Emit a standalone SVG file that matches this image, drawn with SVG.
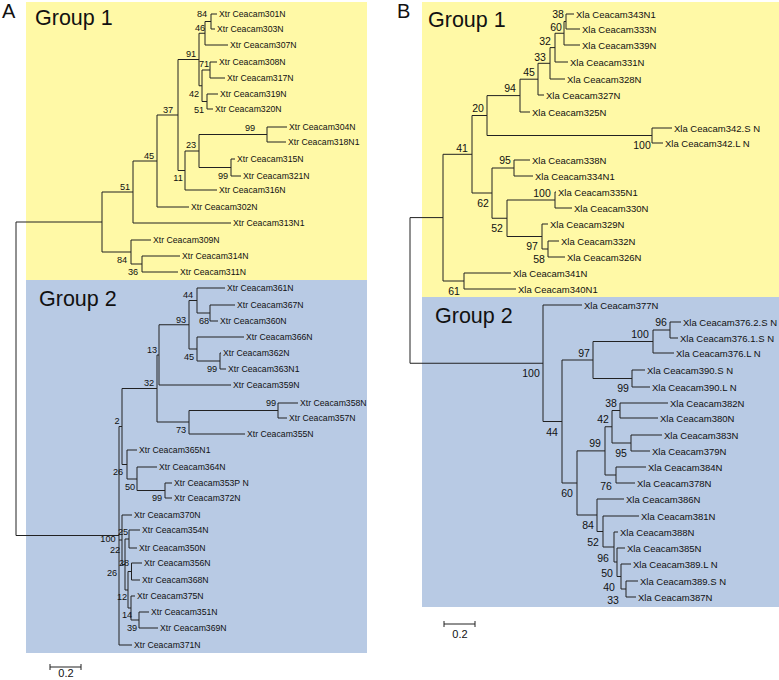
<svg xmlns="http://www.w3.org/2000/svg" width="779" height="680" viewBox="0 0 779 680">
<style>
text{font-family:"Liberation Sans",Arial,sans-serif;fill:#111}
.ta{font-size:8.7px;dominant-baseline:central}
.tb{font-size:9.5px;dominant-baseline:central}
.ba{font-size:9.2px;text-anchor:middle;dominant-baseline:central}
.bb{font-size:10.5px;text-anchor:middle;dominant-baseline:central}
.grp{font-size:21.5px}
.pan{font-size:20px}
.sc{font-size:11px;text-anchor:middle}
.br{fill:none;stroke:#222;stroke-width:1}
</style>
<rect width="779" height="680" fill="#fff"/>
<g id="backgrounds">
<rect x="26" y="2" width="341" height="278" fill="#FFF9A6"/>
<rect x="26" y="280" width="341" height="373" fill="#B8CAE4"/>
<rect x="422" y="2" width="357" height="295" fill="#FFF9A6"/>
<rect x="422" y="297" width="357" height="310" fill="#B8CAE4"/>
</g>
<g id="titles">
<text class="pan" x="2" y="18">A</text>
<text class="pan" x="397" y="18">B</text>
<text class="grp" x="35" y="25">Group 1</text>
<text class="grp" x="39" y="306">Group 2</text>
<text class="grp" x="428" y="27">Group 1</text>
<text class="grp" x="435" y="323">Group 2</text>
</g>
<g id="connectors">
<path class="br" d="M211 14H217M211 29H215M205 45H228M210 62H217M210 78H225M207 94H218M207 109H213M267 127H287M267 142H286M231 159H235M231 176H241M185 190H217M157 207H189M133 223H231M131 240H151M142 256H180M142 272H178
M211 14V29M205 21.5V45M210 62V78M207 94V109M202 70V101.5M199 33.25V85.75M267 127V142M231 159V176M199 134.5V167.5M185 151V190M178 59.5V170.5M157 115V207M133 161V223M142 256V272M131 240V264M102 192V252M16 222V535.5
M205 21.5H211M199 33.25H205M202 70H210M202 101.5H207M199 85.75H202M178 59.5H199M199 134.5H267M199 167.5H231M185 151H199M178 170.5H185M157 115H178M133 161H157M102 192H133M131 264H142M102 252H131M16 222H102"/>
<path class="br" d="M197 288H225M210 305H235M210 321H218M197 337H244M220 353H221M220 369H226M159 385H231M278 403H298M278 418H287M189 434H245M127 450H137M137 467H157M165 483H172M165 498H172M122 515H132M129 530H140M129 548H137M131.5 563H142M131.5 580H140M131 596H135M139 612H149M139 628H158M119 645H132
M210 305V321M197 288V313M220 353V369M197 337V361M189 300.5V349M159 324.75V385M278 403V418M189 410.5V434M157 355V422M165 483V498M137 467V490.5M127 450V479M122 388.5V464.5M129 530V548M131.5 563V580M139 612V628M131 596V620M128 571.5V608M125 539V590M122 515V564.5M119 426.5V645
M197 313H210M189 300.5H197M197 361H220M189 349H197M159 324.75H189M157 355H159M189 410.5H278M157 422H189M122 388.5H157M137 490.5H165M127 479H137M122 464.5H127M119 426.5H122M125 539H129M128 571.5H131.5M131 620H139M128 608H131M125 590H128M122 564.5H125M119 540H122M16 535.5H119"/>
<path class="br" d="M566 14H574M566 29H580M564 45H580M555 62H568M550 79H565M538 95H544M520 112H530M652 128H672M652 143H663M514 160H530M514 176H533M555 192H556M555 208H572M542 224H548M548 241H559M548 257H565M464 273H511M464 289H516
M566 14V29M564 21.5V45M555 33.25V62M550 47.6V79M538 63.3V95M520 79.2V112M652 128V143M487 95.6V135.5M514 160V176M555 192V208M548 241V257M542 224V249M507 200V236.5M492 168V218.25M472 115.5V193M464 273V289M443 154.3V281M410 217.6V363.25
M564 21.5H566M555 33.25H564M550 47.6H555M538 63.3H550M520 79.2H538M487 95.6H520M487 135.5H652M472 115.5H487M507 200H555M542 249H548M507 236.5H542M492 218.25H507M492 168H514M472 193H492M443 154.3H472M443 281H464M410 217.6H443M410 363.25H543"/>
<path class="br" d="M543 305H582M670 322H681M670 338H678M653 353H674M632 370H645M632 387H650M620 403H668M620 418H658M631 435H662M631 451H650M616 467H646M616 483H635M597 499H624M603 516H639M614 532H618M617 548H625M621 564H631M626 581H638M626 597H636
M670 322V338M653 330V353M632 370V387M593 341.5V378.5M620 403V418M631 435V451M612 410.5V443M616 467V483M605 426.75V475M626 581V597M621 564V589M617 548V576.5M614 532V562M603 516V547M597 499V531.5M577 450.9V515M562 360V483M543 305V421.5
M653 330H670M593 341.5H653M593 378.5H632M562 360H593M612 410.5H620M612 443H631M605 426.75H612M605 475H616M577 450.9H605M621 589H626M617 576.5H621M614 562H617M603 547H614M597 531.5H603M577 515H597M562 483H577M543 421.5H562"/>
<path class="br" d="M50 667H81M50 664V670M81 664V670M444 624H475M444 621V627M475 621V627"/>
</g>
<g id="scale-bars">
<text class="sc" x="66" y="677">0.2</text>
<text class="sc" x="460" y="638">0.2</text>
</g>
<g id="A-tips">
<g id="xtr301"><text class="ta" x="219" y="14">Xtr Ceacam301N</text></g>
<g id="xtr303"><text class="ta" x="217" y="29">Xtr Ceacam303N</text></g>
<g id="xtr307"><text class="ta" x="230" y="45">Xtr Ceacam307N</text></g>
<g id="xtr308"><text class="ta" x="219" y="62">Xtr Ceacam308N</text></g>
<g id="xtr317"><text class="ta" x="227" y="78">Xtr Ceacam317N</text></g>
<g id="xtr319"><text class="ta" x="220" y="94">Xtr Ceacam319N</text></g>
<g id="xtr320"><text class="ta" x="215" y="109">Xtr Ceacam320N</text></g>
<g id="xtr304"><text class="ta" x="289" y="127">Xtr Ceacam304N</text></g>
<g id="xtr318"><text class="ta" x="288" y="142">Xtr Ceacam318N1</text></g>
<g id="xtr315"><text class="ta" x="237" y="159">Xtr Ceacam315N</text></g>
<g id="xtr321"><text class="ta" x="243" y="176">Xtr Ceacam321N</text></g>
<g id="xtr316"><text class="ta" x="219" y="190">Xtr Ceacam316N</text></g>
<g id="xtr302"><text class="ta" x="191" y="207">Xtr Ceacam302N</text></g>
<g id="xtr313"><text class="ta" x="233" y="223">Xtr Ceacam313N1</text></g>
<g id="xtr309"><text class="ta" x="153" y="240">Xtr Ceacam309N</text></g>
<g id="xtr314"><text class="ta" x="182" y="256">Xtr Ceacam314N</text></g>
<g id="xtr311"><text class="ta" x="180" y="272">Xtr Ceacam311N</text></g>
<g id="xtr361"><text class="ta" x="227" y="288">Xtr Ceacam361N</text></g>
<g id="xtr367"><text class="ta" x="237" y="305">Xtr Ceacam367N</text></g>
<g id="xtr360"><text class="ta" x="220" y="321">Xtr Ceacam360N</text></g>
<g id="xtr366"><text class="ta" x="246" y="337">Xtr Ceacam366N</text></g>
<g id="xtr362"><text class="ta" x="223" y="353">Xtr Ceacam362N</text></g>
<g id="xtr363"><text class="ta" x="228" y="369">Xtr Ceacam363N1</text></g>
<g id="xtr359"><text class="ta" x="233" y="385">Xtr Ceacam359N</text></g>
<g id="xtr358"><text class="ta" x="300" y="403">Xtr Ceacam358N</text></g>
<g id="xtr357"><text class="ta" x="289" y="418">Xtr Ceacam357N</text></g>
<g id="xtr355"><text class="ta" x="247" y="434">Xtr Ceacam355N</text></g>
<g id="xtr365"><text class="ta" x="139" y="450">Xtr Ceacam365N1</text></g>
<g id="xtr364"><text class="ta" x="159" y="467">Xtr Ceacam364N</text></g>
<g id="xtr353"><text class="ta" x="174" y="483">Xtr Ceacam353P N</text></g>
<g id="xtr372"><text class="ta" x="174" y="498">Xtr Ceacam372N</text></g>
<g id="xtr370"><text class="ta" x="134" y="515">Xtr Ceacam370N</text></g>
<g id="xtr354"><text class="ta" x="142" y="530">Xtr Ceacam354N</text></g>
<g id="xtr350"><text class="ta" x="139" y="548">Xtr Ceacam350N</text></g>
<g id="xtr356"><text class="ta" x="144" y="563">Xtr Ceacam356N</text></g>
<g id="xtr368"><text class="ta" x="142" y="580">Xtr Ceacam368N</text></g>
<g id="xtr375"><text class="ta" x="137" y="596">Xtr Ceacam375N</text></g>
<g id="xtr351"><text class="ta" x="151" y="612">Xtr Ceacam351N</text></g>
<g id="xtr369"><text class="ta" x="160" y="628">Xtr Ceacam369N</text></g>
<g id="xtr371"><text class="ta" x="134" y="645">Xtr Ceacam371N</text></g>
</g>
<g id="A-support">
<text class="ba" x="202" y="14">84</text><text class="ba" x="200" y="28">46</text><text class="ba" x="191" y="54">91</text><text class="ba" x="204" y="64">71</text><text class="ba" x="194" y="94">42</text><text class="ba" x="168" y="110">37</text><text class="ba" x="199" y="110">51</text><text class="ba" x="250" y="128">99</text><text class="ba" x="191" y="145">23</text><text class="ba" x="149" y="156">45</text><text class="ba" x="223" y="176">99</text><text class="ba" x="125" y="187">51</text><text class="ba" x="178" y="178">11</text><text class="ba" x="122" y="260">84</text><text class="ba" x="133" y="272">36</text>
<text class="ba" x="188" y="295">44</text><text class="ba" x="181" y="320">93</text><text class="ba" x="204" y="321">68</text><text class="ba" x="152" y="350">13</text><text class="ba" x="189" y="357">45</text><text class="ba" x="212" y="369">99</text><text class="ba" x="149" y="383">32</text><text class="ba" x="271" y="403">99</text><text class="ba" x="117" y="421">2</text><text class="ba" x="181" y="430">73</text><text class="ba" x="118" y="472">26</text><text class="ba" x="130" y="487">50</text><text class="ba" x="157" y="498">99</text><text class="ba" x="123" y="532">25</text><text class="ba" x="108" y="539">100</text><text class="ba" x="115" y="550">22</text><text class="ba" x="124" y="563">28</text><text class="ba" x="112" y="573">26</text><text class="ba" x="122" y="597">12</text><text class="ba" x="127" y="615">14</text><text class="ba" x="132" y="628">39</text>
</g>
<g id="B-tips">
<g id="xla343"><text class="tb" x="576" y="14">Xla Ceacam343N1</text></g>
<g id="xla333"><text class="tb" x="582" y="29">Xla Ceacam333N</text></g>
<g id="xla339"><text class="tb" x="582" y="45">Xla Ceacam339N</text></g>
<g id="xla331"><text class="tb" x="570" y="62">Xla Ceacam331N</text></g>
<g id="xla328"><text class="tb" x="567" y="79">Xla Ceacam328N</text></g>
<g id="xla327"><text class="tb" x="546" y="95">Xla Ceacam327N</text></g>
<g id="xla325"><text class="tb" x="532" y="112">Xla Ceacam325N</text></g>
<g id="xla342S"><text class="tb" x="674" y="128">Xla Ceacam342.S N</text></g>
<g id="xla342L"><text class="tb" x="665" y="143">Xla Ceacam342.L N</text></g>
<g id="xla338"><text class="tb" x="532" y="160">Xla Ceacam338N</text></g>
<g id="xla334"><text class="tb" x="535" y="176">Xla Ceacam334N1</text></g>
<g id="xla335"><text class="tb" x="558" y="192">Xla Ceacam335N1</text></g>
<g id="xla330"><text class="tb" x="574" y="208">Xla Ceacam330N</text></g>
<g id="xla329"><text class="tb" x="550" y="224">Xla Ceacam329N</text></g>
<g id="xla332"><text class="tb" x="561" y="241">Xla Ceacam332N</text></g>
<g id="xla326"><text class="tb" x="567" y="257">Xla Ceacam326N</text></g>
<g id="xla341"><text class="tb" x="513" y="273">Xla Ceacam341N</text></g>
<g id="xla340"><text class="tb" x="518" y="289">Xla Ceacam340N1</text></g>
<g id="xla377"><text class="tb" x="584" y="305">Xla Ceacam377N</text></g>
<g id="xla3762S"><text class="tb" x="683" y="322">Xla Ceacam376.2.S N</text></g>
<g id="xla3761S"><text class="tb" x="680" y="338">Xla Ceacam376.1.S N</text></g>
<g id="xla376L"><text class="tb" x="676" y="353">Xla Ceacam376.L N</text></g>
<g id="xla390S"><text class="tb" x="647" y="370">Xla Ceacam390.S N</text></g>
<g id="xla390L"><text class="tb" x="652" y="387">Xla Ceacam390.L N</text></g>
<g id="xla382"><text class="tb" x="670" y="403">Xla Ceacam382N</text></g>
<g id="xla380"><text class="tb" x="660" y="418">Xla Ceacam380N</text></g>
<g id="xla383"><text class="tb" x="664" y="435">Xla Ceacam383N</text></g>
<g id="xla379"><text class="tb" x="652" y="451">Xla Ceacam379N</text></g>
<g id="xla384"><text class="tb" x="648" y="467">Xla Ceacam384N</text></g>
<g id="xla378"><text class="tb" x="637" y="483">Xla Ceacam378N</text></g>
<g id="xla386"><text class="tb" x="626" y="499">Xla Ceacam386N</text></g>
<g id="xla381"><text class="tb" x="641" y="516">Xla Ceacam381N</text></g>
<g id="xla388"><text class="tb" x="620" y="532">Xla Ceacam388N</text></g>
<g id="xla385"><text class="tb" x="627" y="548">Xla Ceacam385N</text></g>
<g id="xla389L"><text class="tb" x="633" y="564">Xla Ceacam389.L N</text></g>
<g id="xla389S"><text class="tb" x="640" y="581">Xla Ceacam389.S N</text></g>
<g id="xla387"><text class="tb" x="638" y="597">Xla Ceacam387N</text></g>
</g>
<g id="B-support">
<text class="bb" x="558" y="14">38</text><text class="bb" x="556" y="27">60</text><text class="bb" x="545" y="41">32</text><text class="bb" x="540" y="57">33</text><text class="bb" x="529" y="72">45</text><text class="bb" x="510" y="88">94</text><text class="bb" x="478" y="108">20</text><text class="bb" x="642" y="145">100</text><text class="bb" x="462" y="148">41</text><text class="bb" x="505" y="160">95</text><text class="bb" x="542" y="193">100</text><text class="bb" x="483" y="203">62</text><text class="bb" x="497" y="228">52</text><text class="bb" x="532" y="246">97</text><text class="bb" x="539" y="259">58</text><text class="bb" x="454" y="291">61</text>
<text class="bb" x="661" y="322">96</text><text class="bb" x="640" y="334">100</text><text class="bb" x="584" y="353">97</text><text class="bb" x="531" y="373">100</text><text class="bb" x="623" y="388">99</text><text class="bb" x="611" y="403">38</text><text class="bb" x="603" y="419">42</text><text class="bb" x="552" y="432">44</text><text class="bb" x="595" y="443">99</text><text class="bb" x="621" y="453">95</text><text class="bb" x="606" y="486">76</text><text class="bb" x="567" y="493">60</text><text class="bb" x="588" y="525">84</text><text class="bb" x="593" y="542">52</text><text class="bb" x="603" y="558">96</text><text class="bb" x="607" y="573">50</text><text class="bb" x="609" y="587">40</text><text class="bb" x="613" y="600">33</text>
</g>
</svg>
